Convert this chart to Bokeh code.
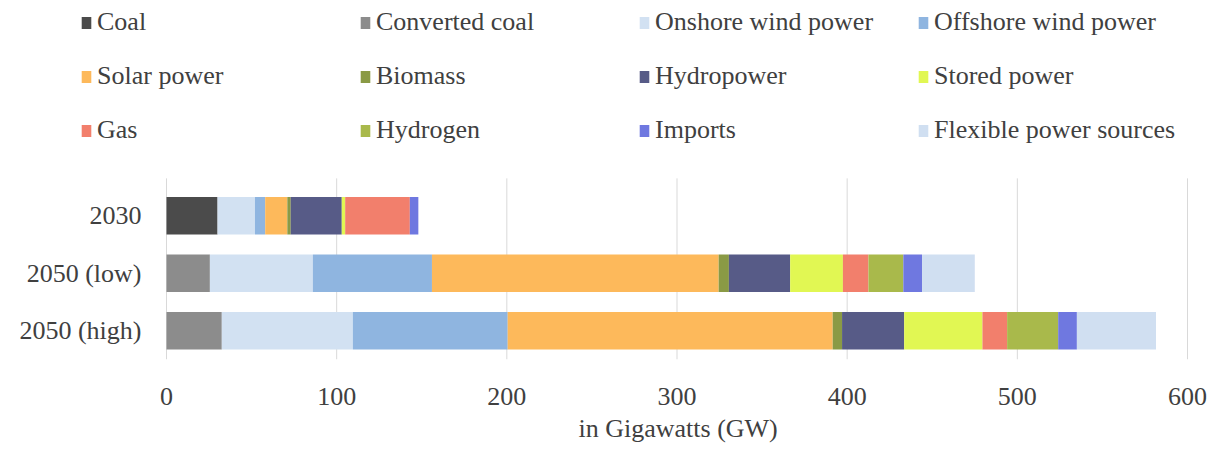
from bokeh.plotting import figure
from bokeh.models import (ColumnDataSource, Range1d, FixedTicker,
                          Legend, LegendItem, Title)
from bokeh.core.properties import value
from bokeh.embed import file_html
from bokeh.resources import INLINE

# ---- data ----
years = ["2030", "2050 (low)", "2050 (high)"]
series = ["Coal", "Converted coal", "Onshore wind power", "Offshore wind power",
          "Solar power", "Biomass", "Hydropower", "Stored power",
          "Gas", "Hydrogen", "Imports", "Flexible power sources"]
coal = [30, 0, 0]
converted_coal = [0, 25.5, 32.5]
onshore_wind = [22, 60.5, 77]
offshore_wind = [6, 70, 91]
solar = [13, 168.5, 191]
biomass = [2, 6, 5.5]
hydropower = [30, 36, 36.5]
stored = [2, 31, 46]
gas = [38, 15, 14.5]
hydrogen = [0, 20.5, 30]
imports = [5, 11, 11]
flexible = [0, 31, 46.5]
x_ticks = [0, 100, 200, 300, 400, 500, 600]
x_title = "in Gigawatts (GW)"

colors = ["#4b4b4b", "#8c8c8c", "#d2e1f2", "#8fb5e0",
          "#fdb95b", "#8a9a45", "#575b87", "#e1f753",
          "#f27f6c", "#a9b94b", "#6f78e0", "#d0dff1"]

# ---- layout constants (pixels) ----
W, H = 1210, 452
BOTTOM = 93                 # space for x axis below the frame
FRAME_H = H - BOTTOM
X0_PX, X600_PX = 166, 1187  # where 0 and 600 GW fall
ROW_PX = 57.5               # category pitch
GW_PER_PX = (x_ticks[-1] - x_ticks[0]) / (X600_PX - X0_PX)
TITLE_LEFT_PX = 578         # left edge of the axis title

n = len(years)
ypos = [n - i - 0.5 for i in range(n)]   # first category on top

keys = ["s%d" % i for i in range(len(series))]
values = [coal, converted_coal, onshore_wind, offshore_wind, solar, biomass,
          hydropower, stored, gas, hydrogen, imports, flexible]
data = {"year": years, "ypos": ypos}
for k, v in zip(keys, values):
    data[k] = v
source = ColumnDataSource(data)

FONT = "Liberation Serif"
TXT = "#404040"

p = figure(width=W, height=H,
           x_range=Range1d(-X0_PX * GW_PER_PX, (W - X0_PX) * GW_PER_PX),
           y_range=Range1d(0, FRAME_H / ROW_PX),
           y_axis_location=None,
           toolbar_location=None, output_backend="svg",
           min_border_left=0, min_border_right=0,
           min_border_top=0, min_border_bottom=BOTTOM)
p.grid.visible = False
p.outline_line_color = None

# vertical gridlines only over the bar area
p.segment(x0=x_ticks, y0=[0] * len(x_ticks), x1=x_ticks,
          y1=[n + 0.15] * len(x_ticks), line_color="#d9d9d9", line_width=1)

renderers = p.hbar_stack(keys, y="ypos", height=0.65, color=colors, source=source,
                         line_color=None)

# category labels
p.text(x=0, y="ypos", text="year", source=source, x_offset=-25,
       text_align="right", text_baseline="middle",
       text_font=value(FONT), text_font_size="26px", text_color=TXT)

items = [LegendItem(label=name, renderers=[r]) for name, r in zip(series, renderers)]
legend = Legend(items=items, location=(80, 214), orientation="horizontal", ncols=4,
                glyph_width=12, glyph_height=15, label_standoff=5,
                label_width=238, label_height=30, spacing=24, padding=0, margin=0,
                border_line_color=None, background_fill_alpha=0,
                label_text_font=FONT, label_text_font_size="26px",
                label_text_color=TXT)
p.add_layout(legend)

p.xaxis.ticker = FixedTicker(ticks=x_ticks)
p.xaxis.axis_line_color = None
p.xaxis.major_tick_line_color = None
p.xaxis.minor_tick_line_color = None
p.xaxis.major_tick_out = 0
p.xaxis.major_tick_in = 0
p.xaxis.major_label_text_font = FONT
p.xaxis.major_label_text_font_size = "26px"
p.xaxis.major_label_text_color = TXT
p.xaxis.major_label_standoff = 28

# axis title placed under the 0..600 span of the axis
p.add_layout(Title(text=x_title, align="left", offset=TITLE_LEFT_PX,
                   text_font=FONT, text_font_size="26px", text_font_style="normal",
                   text_color=TXT, standoff=8), "below")

open("out.html", "w").write(file_html(p, INLINE))
